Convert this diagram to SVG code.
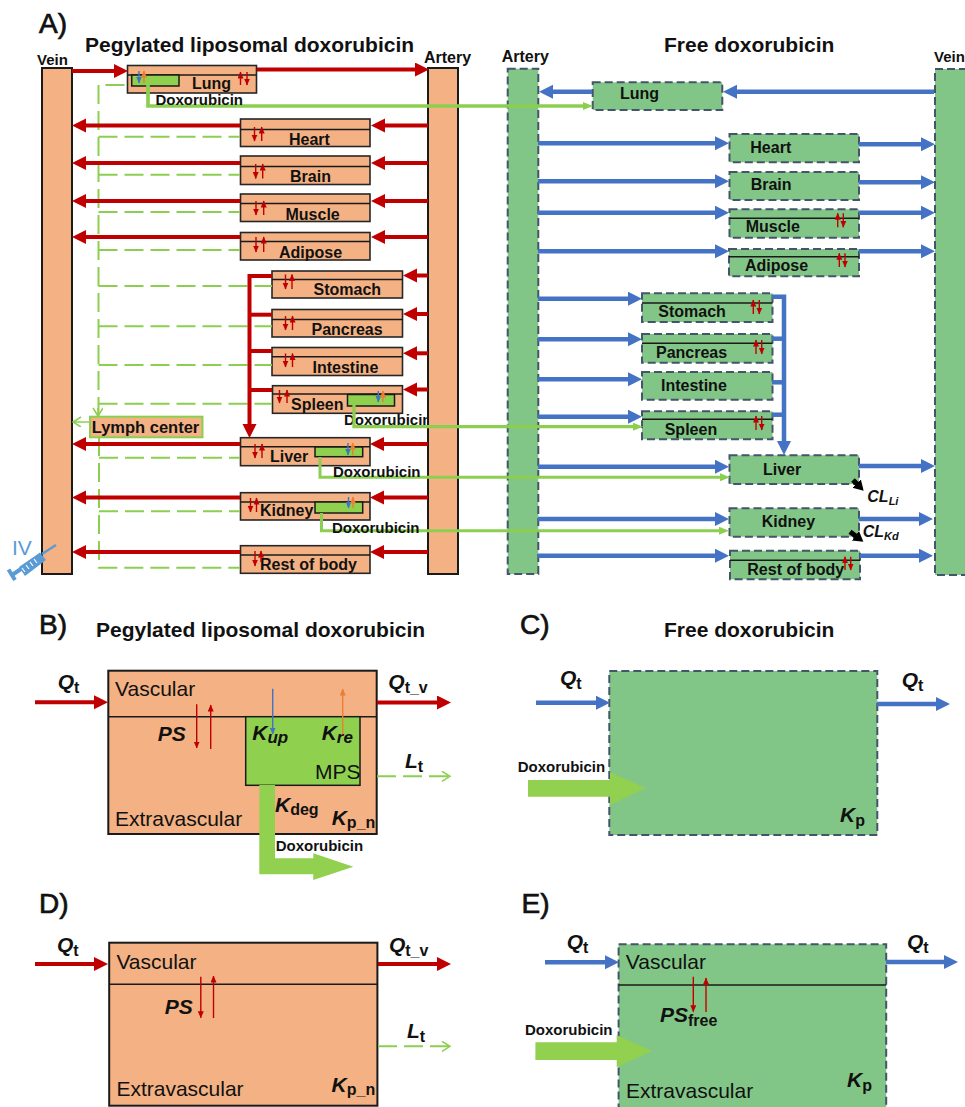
<svg xmlns="http://www.w3.org/2000/svg" width="965" height="1107" viewBox="0 0 965 1107">
<style>
text{font-family:"Liberation Sans",Arial,sans-serif;fill:#111}
.b{font-weight:bold}
.t{font-size:21px;font-weight:bold}
.pl{font-size:28px;stroke:#111;stroke-width:.7}
.n{font-size:16px;font-weight:bold}
.d{font-size:15px;font-weight:bold}
.r{font-size:21px}
.v{font-size:21px;font-weight:bold;font-style:italic}
.s{font-size:16px;font-weight:bold;font-style:normal}
.si{font-size:17px;font-weight:bold;font-style:italic}
.o{fill:#f4b183;stroke:#262626;stroke-width:1.6}
.ov{fill:#f4b183;stroke:#1a1a1a;stroke-width:2}
.g{fill:#82c687;stroke:#44546a;stroke-width:2;stroke-dasharray:8 4}
.m{fill:#8fd14f;stroke:#1a1a1a;stroke-width:1.5}
.l{stroke:#1a1a1a;stroke-width:1.5;fill:none}
.cr{fill:none;stroke:#c00000;stroke-width:4}
.cb{fill:none;stroke:#4472c4;stroke-width:4.5}
.dg{fill:none;stroke:#8ccf50;stroke-width:2;stroke-dasharray:19 7}
.sg{fill:none;stroke:#8ccf50;stroke-width:3}
.tr{stroke:#c00000;stroke-width:1.4;fill:none}
.tb{stroke:#4472c4;stroke-width:1.4;fill:none}
.to{stroke:#ed7d31;stroke-width:1.4;fill:none}
.bg{fill:#92d050}
</style>
<defs>
<marker id="hr" markerUnits="userSpaceOnUse" markerWidth="16" markerHeight="16" refX="2" refY="7" orient="auto"><path d="M0 0L14 7L0 14Z" fill="#c00000"/></marker>
<marker id="hb" markerUnits="userSpaceOnUse" markerWidth="16" markerHeight="16" refX="2" refY="7" orient="auto"><path d="M0 0L14 7L0 14Z" fill="#4472c4"/></marker>
<marker id="hg" markerUnits="userSpaceOnUse" markerWidth="12" markerHeight="10" refX="1" refY="4" orient="auto"><path d="M0 0L10 4L0 8Z" fill="#8ccf50"/></marker>
<marker id="og" markerUnits="userSpaceOnUse" markerWidth="12" markerHeight="12" refX="9" refY="5" orient="auto"><path d="M1 0L9 5L1 10" fill="none" stroke="#8ccf50" stroke-width="1.5"/></marker>
<marker id="tr" markerUnits="userSpaceOnUse" markerWidth="8" markerHeight="8" refX="6.500" refY="3" orient="auto"><path d="M0 0L7 3L0 6Z" fill="#c00000"/></marker>
<marker id="tb" markerUnits="userSpaceOnUse" markerWidth="8" markerHeight="8" refX="6.500" refY="3" orient="auto"><path d="M0 0L7 3L0 6Z" fill="#4472c4"/></marker>
<marker id="to" markerUnits="userSpaceOnUse" markerWidth="8" markerHeight="8" refX="6.500" refY="3" orient="auto"><path d="M0 0L7 3L0 6Z" fill="#ed7d31"/></marker>
<marker id="hk" markerUnits="userSpaceOnUse" markerWidth="12" markerHeight="13" refX="2" refY="6" orient="auto"><path d="M0 0L10 6L0 12Z" fill="#000"/></marker>
</defs>
<rect width="965" height="1107" fill="#fff"/>

<g id="panel-labels">
<text class="pl" x="39" y="33">A)</text>
<text class="t" x="85" y="51.500">Pegylated liposomal doxorubicin</text>
<text class="t" x="664" y="51.500">Free doxorubicin</text>
<text class="b" font-size="15" x="37" y="65">Vein</text>
<text class="n" x="424" y="63">Artery</text>
<text class="n" x="501.700" y="61.700">Artery</text>
<text class="b" font-size="15" x="934" y="61.700">Vein</text>
<text class="d" x="344" y="425">Doxorubicin</text>
</g>

<g id="lung-pl"><rect class="o" x="127.500" y="65.500" width="129" height="27.500"/><path class="l" d="M127.500 75H256.500"/><rect class="m" x="131.700" y="75" width="47.300" height="11"/><text class="n" x="192" y="89">Lung</text></g>
<g id="heart-pl"><rect class="o" x="240.500" y="119" width="129.500" height="27.500"/><path class="l" d="M240.500 129.500H370"/><text class="n" x="289" y="144.700">Heart</text></g>
<g id="brain-pl"><rect class="o" x="240.500" y="156" width="129.500" height="28.500"/><path class="l" d="M240.500 166.500H370"/><text class="n" x="290" y="181.500">Brain</text></g>
<g id="muscle-pl"><rect class="o" x="240.500" y="194" width="129.500" height="27.500"/><path class="l" d="M240.500 203.500H370"/><text class="n" x="285.500" y="220">Muscle</text></g>
<g id="adipose-pl"><rect class="o" x="240.500" y="232.500" width="129.500" height="27.500"/><path class="l" d="M240.500 241.500H370"/><text class="n" x="279" y="258">Adipose</text></g>
<g id="stomach-pl"><rect class="o" x="272" y="271" width="130.500" height="27"/><path class="l" d="M272 279.500H402.500"/><text class="n" x="313.500" y="295">Stomach</text></g>
<g id="pancreas-pl"><rect class="o" x="272" y="309.500" width="130.500" height="27.500"/><path class="l" d="M272 319.500H402.500"/><text class="n" x="311.500" y="334.500">Pancreas</text></g>
<g id="intestine-pl"><rect class="o" x="272" y="347.500" width="130.500" height="28"/><path class="l" d="M272 356.700H402.500"/><text class="n" x="312.500" y="372.500">Intestine</text></g>
<g id="spleen-pl"><rect class="o" x="272.500" y="385.700" width="130" height="27.600"/><path class="l" d="M272.500 394H402.500"/><rect class="m" x="347.500" y="394.500" width="47" height="11.500"/><text class="n" x="291" y="409.500">Spleen</text></g>
<g id="liver-pl"><rect class="o" x="240.500" y="437.700" width="129.500" height="28"/><path class="l" d="M240.500 446.700H370"/><rect class="m" x="315" y="447" width="47.700" height="9.700"/><text class="n" x="270" y="461.500">Liver</text></g>
<g id="kidney-pl"><rect class="o" x="240.500" y="492.700" width="129.500" height="27.300"/><path class="l" d="M240.500 502H370"/><rect class="m" x="315" y="502" width="47.700" height="11"/><text class="n" x="260" y="516">Kidney</text></g>
<g id="rest-pl"><rect class="o" x="240.500" y="545.700" width="129.500" height="27.600"/><path class="l" d="M240.500 555H370"/><text class="n" x="260" y="570">Rest of body</text></g>

<g id="vein-pl"><rect class="ov" x="42" y="68" width="30" height="506"/></g>
<g id="artery-pl"><rect class="ov" x="428" y="68" width="30" height="506"/></g>

<g id="artery-free"><rect class="g" x="507.700" y="68.700" width="30.600" height="505.300"/></g>
<g id="vein-free"><rect class="g" x="935" y="69" width="40" height="506"/></g>
<g id="lung-free"><rect class="g" x="592.700" y="82.300" width="129.600" height="27.700"/><text class="n" x="620" y="99.300">Lung</text></g>
<g id="heart-free"><rect class="g" x="729.500" y="134" width="129.500" height="28.300"/><text class="n" x="750.300" y="153">Heart</text></g>
<g id="brain-free"><rect class="g" x="729.500" y="172" width="129.500" height="28"/><text class="n" x="750.700" y="190">Brain</text></g>
<g id="muscle-free"><rect class="g" x="729.500" y="209.300" width="129.500" height="28.400"/><path class="l" d="M729.500 218.300H859"/><text class="n" x="745.700" y="231.700">Muscle</text></g>
<g id="adipose-free"><rect class="g" x="729" y="249" width="130" height="27.300"/><path class="l" d="M729 256.700H859"/><text class="n" x="745" y="270.700">Adipose</text></g>
<g id="stomach-free"><rect class="g" x="642" y="293.300" width="130.500" height="28.700"/><path class="l" d="M642 303H772.500"/><text class="n" x="658.300" y="317.300">Stomach</text></g>
<g id="pancreas-free"><rect class="g" x="642" y="334" width="130.500" height="28.700"/><path class="l" d="M642 343.300H772.500"/><text class="n" x="656" y="358.300">Pancreas</text></g>
<g id="intestine-free"><rect class="g" x="642" y="372" width="130.500" height="27.700"/><text class="n" x="661" y="391.300">Intestine</text></g>
<g id="spleen-free"><rect class="g" x="642" y="411.300" width="130.500" height="28"/><path class="l" d="M642 419.300H772.500"/><text class="n" x="664.700" y="434.700">Spleen</text></g>
<g id="liver-free"><rect class="g" x="729.500" y="455.300" width="129.500" height="28.700"/><text class="n" x="763" y="474.700">Liver</text></g>
<g id="kidney-free"><rect class="g" x="729.500" y="508.300" width="129.500" height="28.400"/><text class="n" x="761.700" y="527.300">Kidney</text></g>
<g id="rest-free"><rect class="g" x="730" y="550.700" width="130" height="28.600"/><path class="l" d="M730 560.300H860"/><text class="n" x="747.300" y="575.300">Rest of body</text></g>

<g id="connectors">
<g id="lymph-dashed">
<path class="dg" d="M98.500 416V85H127"/>
<path class="dg" d="M98.500 136.700H240"/><path class="dg" d="M98.500 174.700H240"/><path class="dg" d="M98.500 212H240"/><path class="dg" d="M98.500 250H240"/><path class="dg" d="M98.500 286H272"/><path class="dg" d="M98.500 326.300H272"/><path class="dg" d="M98.500 365H272"/><path class="dg" d="M98.500 403.700H272"/>
<path class="dg" d="M99 437V567.700H240"/><path class="dg" d="M99 457.700H240"/><path class="dg" d="M99 511.300H240"/>
<path d="M98 408V416" style="fill:none;stroke:#8ccf50;stroke-width:1.5" marker-end="url(#og)"/>
<path d="M90 422H73" style="fill:none;stroke:#8ccf50;stroke-width:1.5" marker-end="url(#og)"/>
</g>
<g id="red-left">
<path class="cr" d="M72 71H116" marker-end="url(#hr)"/><path class="cr" d="M257 69.500H417" marker-end="url(#hr)"/>
<path class="cr" d="M240 125.500H84" marker-end="url(#hr)"/><path class="cr" d="M428 125.500H383" marker-end="url(#hr)"/>
<path class="cr" d="M240 163H84" marker-end="url(#hr)"/><path class="cr" d="M428 163H383" marker-end="url(#hr)"/>
<path class="cr" d="M240 201H84" marker-end="url(#hr)"/><path class="cr" d="M428 201H383" marker-end="url(#hr)"/>
<path class="cr" d="M240 237H84" marker-end="url(#hr)"/><path class="cr" d="M428 237H383" marker-end="url(#hr)"/>
<path class="cr" d="M428 275.500H415" marker-end="url(#hr)"/><path class="cr" d="M428 314H415" marker-end="url(#hr)"/><path class="cr" d="M428 353.300H415" marker-end="url(#hr)"/><path class="cr" d="M428 389.500H415" marker-end="url(#hr)"/>
<path class="cr" d="M272 276H249.500V426" marker-end="url(#hr)"/><path class="cr" d="M272 314.700H249.500"/><path class="cr" d="M272 351H249.500"/><path class="cr" d="M272 390H249.500"/>
<path class="cr" d="M240 444H84" marker-end="url(#hr)"/><path class="cr" d="M428 444H382" marker-end="url(#hr)"/>
<path class="cr" d="M240 497.500H84" marker-end="url(#hr)"/><path class="cr" d="M428 497.500H382" marker-end="url(#hr)"/>
<path class="cr" d="M240 552H84" marker-end="url(#hr)"/><path class="cr" d="M428 552H382" marker-end="url(#hr)"/>
</g>
<g id="blue-right">
<path class="cb" d="M592 91.700H551" marker-end="url(#hb)"/><path class="cb" d="M934 91.700H735" marker-end="url(#hb)"/>
<path class="cb" d="M538 143.300H717" marker-end="url(#hb)"/><path class="cb" d="M859 144.300H923" marker-end="url(#hb)"/>
<path class="cb" d="M538 181.300H717" marker-end="url(#hb)"/><path class="cb" d="M859 182.300H923" marker-end="url(#hb)"/>
<path class="cb" d="M538 212.700H717" marker-end="url(#hb)"/><path class="cb" d="M859 212.700H923" marker-end="url(#hb)"/>
<path class="cb" d="M538 251.300H717" marker-end="url(#hb)"/><path class="cb" d="M859 251.300H923" marker-end="url(#hb)"/>
<path class="cb" d="M538 298.700H630" marker-end="url(#hb)"/><path class="cb" d="M538 339.300H630" marker-end="url(#hb)"/><path class="cb" d="M538 379.300H630" marker-end="url(#hb)"/><path class="cb" d="M538 416.700H630" marker-end="url(#hb)"/>
<path class="cb" d="M772 296.700H784V443" marker-end="url(#hb)"/><path class="cb" d="M772 338.700H784"/><path class="cb" d="M772 382.300H784"/><path class="cb" d="M772 414.700H784"/>
<path class="cb" d="M538 466.700H717" marker-end="url(#hb)"/><path class="cb" d="M859 466H923" marker-end="url(#hb)"/>
<path class="cb" d="M538 519H717" marker-end="url(#hb)"/><path class="cb" d="M859 519H921" marker-end="url(#hb)"/>
<path class="cb" d="M538 555.700H717" marker-end="url(#hb)"/><path class="cb" d="M860 555.700H921" marker-end="url(#hb)"/>
</g>
<g id="doxorubicin-links">
<path class="sg" style="stroke-width:3.700" d="M148 85V106H584" marker-end="url(#hg)"/>
<path class="sg" style="stroke-width:3.300" d="M354 405V426.700H634" marker-end="url(#hg)"/>
<path class="sg" d="M320 457V477.300H721" marker-end="url(#hg)"/>
<path class="sg" d="M321.500 513V530.700H720" marker-end="url(#hg)"/>
</g>
<g id="clearance">
<path d="M853 480L858 485" stroke="#000" stroke-width="5" marker-end="url(#hk)"/>
<path d="M850 531.700L857 537" stroke="#000" stroke-width="5" marker-end="url(#hk)"/>
</g>
<g id="exchange-arrows">
<path class="tr" d="M240.500 85V72" marker-end="url(#tr)"/><path class="tr" d="M247 72V85" marker-end="url(#tr)"/>
<path class="tb" d="M139 71V83" marker-end="url(#tb)"/><path class="to" d="M144 83V71" marker-end="url(#to)"/>
<path class="tr" d="M254.500 127V141" marker-end="url(#tr)"/><path class="tr" d="M261.700 141V127" marker-end="url(#tr)"/>
<path class="tr" d="M255.700 164V178.500" marker-end="url(#tr)"/><path class="tr" d="M262.700 178.500V164" marker-end="url(#tr)"/>
<path class="tr" d="M256 201V215" marker-end="url(#tr)"/><path class="tr" d="M263.700 215V201" marker-end="url(#tr)"/>
<path class="tr" d="M256 237V252" marker-end="url(#tr)"/><path class="tr" d="M263.700 252V237" marker-end="url(#tr)"/>
<path class="tr" d="M285.500 274.500V289" marker-end="url(#tr)"/><path class="tr" d="M292 289V274.500" marker-end="url(#tr)"/>
<path class="tr" d="M285.500 316V330" marker-end="url(#tr)"/><path class="tr" d="M292.500 330V316" marker-end="url(#tr)"/>
<path class="tr" d="M285.500 353.500V367" marker-end="url(#tr)"/><path class="tr" d="M292.500 367V353.500" marker-end="url(#tr)"/>
<path class="tr" d="M279.500 390V403" marker-end="url(#tr)"/><path class="tr" d="M287 403V390" marker-end="url(#tr)"/>
<path class="tb" d="M378.300 391V402" marker-end="url(#tb)"/><path class="to" d="M383 402V391" marker-end="url(#to)"/>
<path class="tr" d="M255 444V458" marker-end="url(#tr)"/><path class="tr" d="M262 458V444" marker-end="url(#tr)"/>
<path class="tb" d="M348 443V455" marker-end="url(#tb)"/><path class="to" d="M352.700 455V443" marker-end="url(#to)"/>
<path class="tr" d="M250.500 498V512" marker-end="url(#tr)"/><path class="tr" d="M256.500 512V498" marker-end="url(#tr)"/>
<path class="tb" d="M348.500 497V508" marker-end="url(#tb)"/><path class="to" d="M353 508V497" marker-end="url(#to)"/>
<path class="tr" d="M255 551V566" marker-end="url(#tr)"/><path class="tr" d="M261 562V551" marker-end="url(#tr)"/>
<path class="tr" d="M837.700 227.300V213.300" marker-end="url(#tr)"/><path class="tr" d="M843.300 213.300V227.300" marker-end="url(#tr)"/>
<path class="tr" d="M839.300 267V253.300" marker-end="url(#tr)"/><path class="tr" d="M845 253.300V267" marker-end="url(#tr)"/>
<path class="tr" d="M753.300 314V300" marker-end="url(#tr)"/><path class="tr" d="M759.300 300V314" marker-end="url(#tr)"/>
<path class="tr" d="M756 354V340" marker-end="url(#tr)"/><path class="tr" d="M761.700 340V354" marker-end="url(#tr)"/>
<path class="tr" d="M756 430V416" marker-end="url(#tr)"/><path class="tr" d="M761.700 416V430" marker-end="url(#tr)"/>
<path class="tr" d="M845 570V556.700" marker-end="url(#tr)"/><path class="tr" d="M850.700 556.700V570" marker-end="url(#tr)"/>
</g>
</g>

<g id="doxorubicin-labels">
<text class="d" x="155.500" y="105">Doxorubicin</text>
<text class="d" x="333" y="477">Doxorubicin</text>
<text class="d" x="332" y="532.700">Doxorubicin</text>
</g>

<g id="lymph-center"><rect x="90" y="416.700" width="112.500" height="20.600" fill="#f4b183" stroke="#8ccf50" stroke-width="2"/><text x="91.700" y="432.700" font-size="16.500" class="b">Lymph center</text></g>

<g id="clearance-labels">
<text class="b" font-size="16" font-style="italic" x="867.300" y="501.700">CL<tspan font-size="11" dy="3">Li</tspan></text>
<text class="b" font-size="16" font-style="italic" x="862.700" y="536.700">CL<tspan font-size="11" dy="3">Kd</tspan></text>
</g>

<g id="iv-syringe">
<text x="12" y="555" font-size="21" style="fill:#5b9bd5">IV</text>
<path d="M56 545L42 554" stroke="#5b9bd5" stroke-width="2.500" fill="none"/>
<path d="M40 552.500L46 560L25 576L19 567Z" fill="#5b9bd5"/>
<path d="M8.500 569.500L15 580" stroke="#5b9bd5" stroke-width="4" fill="none"/>
<path d="M12 575L21 569" stroke="#5b9bd5" stroke-width="4" fill="none"/>
<path d="M22 568L25 572M26 565L29 569M30 562L33 566M34 559L37 563" stroke="#fff" stroke-width="1.200" fill="none"/>
</g>

<g id="panel-b">
<text class="pl" x="39" y="634">B)</text>
<text class="t" x="96" y="637">Pegylated liposomal doxorubicin</text>
<rect class="ov" x="108.300" y="670.700" width="268.400" height="163.300"/>
<path class="l" d="M108.300 716.700H376.700"/>
<rect class="m" x="245.700" y="716.700" width="114.300" height="68.600"/>
<text class="r" x="115" y="696">Vascular</text>
<text class="r" x="115" y="825.700">Extravascular</text>
<text class="r" x="315" y="779.300">MPS</text>
<text class="v" x="157.700" y="740.700">PS</text>
<path class="tr" d="M196.700 704.300V748" marker-end="url(#tr)"/><path class="tr" d="M210.700 749V705" marker-end="url(#tr)"/>
<path class="tb" d="M272.700 688.700V734" marker-end="url(#tb)"/><path class="to" d="M342.700 735V689" marker-end="url(#to)"/>
<text class="v" x="252.300" y="740" font-size="22">K<tspan class="si" dy="3">up</tspan></text>
<text class="v" x="321.700" y="740" font-size="22">K<tspan class="si" dy="3">re</tspan></text>
<text class="v" x="275" y="811.700" font-size="22">K<tspan class="s" dy="3">deg</tspan></text>
<text class="v" x="331.700" y="825" font-size="22">K<tspan class="s" dy="3">p_n</tspan></text>
<path class="bg" d="M259.300 785H275V858.300H313.300V853.300L353.300 866.700L313.300 880V874.300H259.300Z"/>
<text class="d" x="275.700" y="851">Doxorubicin</text>
<path class="cr" d="M35 702.300H96" marker-end="url(#hr)"/>
<path class="cr" d="M377 702.500H439" marker-end="url(#hr)"/>
<text class="v" x="57.700" y="689.300">Q<tspan class="s" dy="4">t</tspan></text>
<text class="v" x="388.300" y="689.300">Q<tspan class="s" dy="4">t_v</tspan></text>
<path class="dg" d="M377 776.300H450" marker-end="url(#og)"/>
<text class="v" x="405" y="768">L<tspan class="s" dy="4">t</tspan></text>
</g>

<g id="panel-c">
<text class="pl" x="520" y="634">C)</text>
<text class="t" x="664" y="637">Free doxorubicin</text>
<rect class="g" x="609.300" y="671" width="268" height="164"/>
<path class="cb" d="M536 702.700H598" marker-end="url(#hb)"/>
<path class="cb" d="M877 704H938" marker-end="url(#hb)"/>
<text class="v" x="560" y="685">Q<tspan class="s" dy="4">t</tspan></text>
<text class="v" x="901.700" y="687.300">Q<tspan class="s" dy="4">t</tspan></text>
<text class="d" x="517.700" y="771.700">Doxorubicin</text>
<path class="bg" d="M528 780H610V772.300L645.700 788.300L610 805V796.700H528Z"/>
<text class="v" x="840" y="821.700" font-size="22">K<tspan class="s" dy="4">p</tspan></text>
</g>

<g id="panel-d">
<text class="pl" x="39" y="913">D)</text>
<rect class="ov" x="109.200" y="942.700" width="268.200" height="163"/>
<path class="l" d="M109.200 984.300H377.400"/>
<text class="r" x="116.400" y="969">Vascular</text>
<text class="r" x="116.400" y="1095.700">Extravascular</text>
<text class="v" x="164.700" y="1014">PS</text>
<path class="tr" d="M200.800 976.700V1017.700" marker-end="url(#tr)"/><path class="tr" d="M213.500 1018V976" marker-end="url(#tr)"/>
<text class="v" x="331.600" y="1092.300" font-size="22">K<tspan class="s" dy="3">p_n</tspan></text>
<path class="cr" d="M35 964H96" marker-end="url(#hr)"/>
<path class="cr" d="M378 964H439" marker-end="url(#hr)"/>
<text class="v" x="57" y="951.700">Q<tspan class="s" dy="4">t</tspan></text>
<text class="v" x="388.900" y="951.700">Q<tspan class="s" dy="4">t_v</tspan></text>
<path class="dg" d="M378 1046.300H450" marker-end="url(#og)"/>
<text class="v" x="407" y="1038">L<tspan class="s" dy="4">t</tspan></text>
</g>

<g id="panel-e">
<text class="pl" x="521.500" y="913">E)</text>
<rect class="g" x="618.600" y="944.300" width="267.600" height="170"/>
<path class="l" d="M618.600 985H886.200"/>
<text class="r" x="625.800" y="969">Vascular</text>
<text class="r" x="626" y="1098.300">Extravascular</text>
<text class="v" x="660" y="1022.300">PS<tspan class="s" dy="4">free</tspan></text>
<path class="tr" d="M693.300 976.700V1011.700" marker-end="url(#tr)"/><path class="tr" d="M706 1012V978" marker-end="url(#tr)"/>
<text class="v" x="847" y="1087" font-size="22">K<tspan class="s" dy="4">p</tspan></text>
<path class="cb" d="M545 962.300H607" marker-end="url(#hb)"/>
<path class="cb" d="M886 962H946" marker-end="url(#hb)"/>
<text class="v" x="566.700" y="949">Q<tspan class="s" dy="4">t</tspan></text>
<text class="v" x="907" y="949">Q<tspan class="s" dy="4">t</tspan></text>
<text class="d" x="525" y="1035">Doxorubicin</text>
<path class="bg" d="M535.400 1042.300H616.700V1035L651.700 1051L616.700 1067.300V1060H535.400Z"/>
</g>
</svg>
